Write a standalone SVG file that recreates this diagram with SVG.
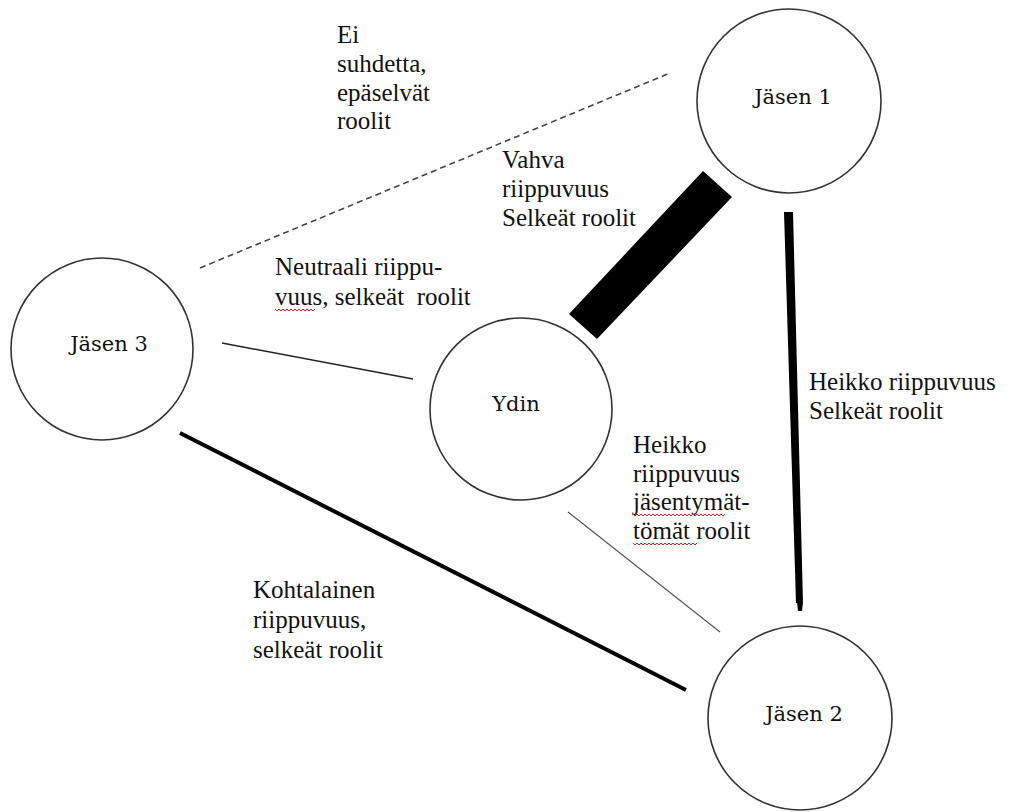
<svg xmlns="http://www.w3.org/2000/svg" width="1010" height="812" viewBox="0 0 1010 812">
<style>
.node{fill:#fff;stroke:#333;stroke-width:1.6}
.nl{font-family:"DejaVu Serif","Liberation Serif",serif;font-size:21px;fill:#111;text-anchor:middle}
.lb{font-family:"Liberation Serif","Times New Roman",serif;font-size:25px;fill:#111}
.sq{fill:none;stroke:#e02020;stroke-width:1}
</style>
<rect width="1010" height="812" fill="#fff"/>
<g id="connectors">
<line x1="200" y1="268" x2="670" y2="73" stroke="#444" stroke-width="1.6" stroke-dasharray="6,4"/>
<line x1="222" y1="343" x2="413" y2="379" stroke="#222" stroke-width="1.5"/>
<line x1="180" y1="433" x2="686" y2="690" stroke="#000" stroke-width="4"/>
<line x1="568" y1="512" x2="720" y2="632" stroke="#555" stroke-width="1.2"/>
<polygon points="703,171 732,197 597,339 569,314" fill="#000"/>
<polygon points="784,212 793,212 803,603 796,603" fill="#000"/>
<polygon points="797,602 803,602 802,611 798,611" fill="#000"/>
</g>
<g id="n-jasen1"><circle class="node" cx="789" cy="101" r="92"/><text class="nl" x="793" y="104">Jäsen 1</text></g>
<g id="n-jasen3"><circle class="node" cx="102" cy="349" r="91"/><text class="nl" x="109" y="351">Jäsen 3</text></g>
<g id="n-ydin"><circle class="node" cx="521" cy="409" r="91"/><text class="nl" x="516" y="411">Ydin</text></g>
<g id="n-jasen2"><circle class="node" cx="800" cy="718" r="92"/><text class="nl" x="804" y="721">Jäsen 2</text></g>
<g id="labels">
<text class="lb" x="337" y="43">Ei</text>
<text class="lb" x="337" y="72">suhdetta,</text>
<text class="lb" x="337" y="101">epäselvät</text>
<text class="lb" x="337" y="129">roolit</text>
<text class="lb" x="502" y="168">Vahva</text>
<text class="lb" x="502" y="197">riippuvuus</text>
<text class="lb" x="502" y="226">Selkeät roolit</text>
<text class="lb" x="275" y="275">Neutraali riippu-</text>
<text class="lb" x="275" y="305" xml:space="preserve">vuus, selkeät  roolit</text>
<text class="lb" x="809" y="390">Heikko riippuvuus</text>
<text class="lb" x="809" y="419">Selkeät roolit</text>
<text class="lb" x="633" y="453">Heikko</text>
<text class="lb" x="633" y="482">riippuvuus</text>
<text class="lb" x="633" y="510">jäsentymät-</text>
<text class="lb" x="633" y="539">tömät roolit</text>
<text class="lb" x="253" y="598">Kohtalainen</text>
<text class="lb" x="253" y="628">riippuvuus,</text>
<text class="lb" x="253" y="658">selkeät roolit</text>
</g>
<g id="spellcheck">
<path class="sq" d="M275,309 l2,2 l2,-2 l2,2 l2,-2 l2,2 l2,-2 l2,2 l2,-2 l2,2 l2,-2 l2,2 l2,-2 l2,2 l2,-2 l2,2 l2,-2 l2,2 l2,-2 l2,2 l2,-2"/>
<path class="sq" d="M633,514 l2,2 l2,-2 l2,2 l2,-2 l2,2 l2,-2 l2,2 l2,-2 l2,2 l2,-2 l2,2 l2,-2 l2,2 l2,-2 l2,2 l2,-2 l2,2 l2,-2 l2,2 l2,-2 l2,2 l2,-2 l2,2 l2,-2 l2,2 l2,-2 l2,2 l2,-2 l2,2 l2,-2 l2,2 l2,-2 l2,2 l2,-2 l2,2 l2,-2 l2,2 l2,-2 l2,2 l2,-2 l2,2 l2,-2 l2,2 l2,-2 l2,2 l2,-2"/>
<path class="sq" d="M633,543 l2,2 l2,-2 l2,2 l2,-2 l2,2 l2,-2 l2,2 l2,-2 l2,2 l2,-2 l2,2 l2,-2 l2,2 l2,-2 l2,2 l2,-2 l2,2 l2,-2 l2,2 l2,-2 l2,2 l2,-2 l2,2 l2,-2 l2,2 l2,-2 l2,2 l2,-2 l2,2 l2,-2 l2,2 l2,-2"/>
</g>
</svg>
